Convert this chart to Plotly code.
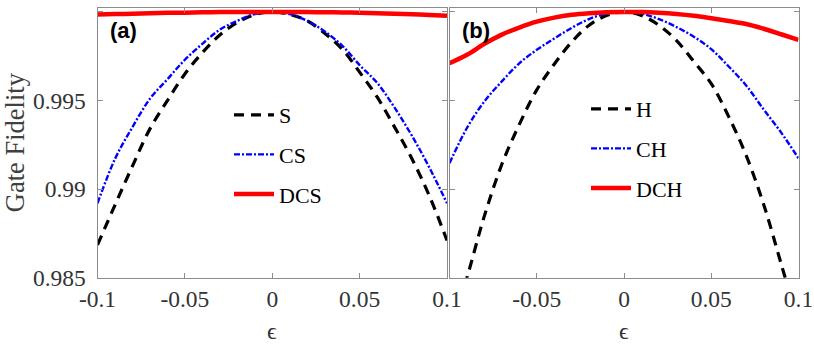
import plotly.graph_objects as go
from plotly.subplots import make_subplots

# epsilon values (shared by all curves)
eps = [-0.10, -0.09, -0.08, -0.07, -0.06, -0.05, -0.04, -0.03, -0.02, -0.01, 0.0,
       0.01, 0.02, 0.03, 0.04, 0.05, 0.06, 0.07, 0.08, 0.09, 0.10]

# panel (a)
fid_S = [0.98685, 0.9891, 0.9913, 0.9934, 0.9950, 0.9965, 0.9977, 0.9987, 0.9994, 0.99985, 1.0,
         0.99985, 0.9995, 0.9988, 0.9979, 0.9966, 0.9952, 0.9935, 0.9917, 0.9896, 0.9871]
fid_CS = [0.9892, 0.9917, 0.9935, 0.9951, 0.9962, 0.9973, 0.9982, 0.9990, 0.9995, 0.99988, 1.0,
          0.99988, 0.9995, 0.9989, 0.9981, 0.9970, 0.9960, 0.9946, 0.9930, 0.9912, 0.9892]
fid_DCS = [0.99985, 0.99988, 0.9999, 0.99993, 0.99995, 0.99996, 0.99998, 0.99999, 1.0, 1.0, 1.0,
           1.0, 0.99999, 0.99998, 0.99997, 0.99995, 0.99993, 0.9999, 0.99987, 0.99983, 0.99978]

# panel (b)
fid_H = [0.9818, 0.9850, 0.98849, 0.9914, 0.99365, 0.9956, 0.99705, 0.9983, 0.99925, 0.9998, 1.0,
         0.9998, 0.99925, 0.9984, 0.9972, 0.99595, 0.99409, 0.9919, 0.98915, 0.9858, 0.9824]
fid_CH = [0.99146, 0.99345, 0.99495, 0.99608, 0.9971, 0.99786, 0.9985, 0.9991, 0.9996, 0.9999, 1.0,
          0.9999, 0.9996, 0.99915, 0.9986, 0.9979, 0.99692, 0.99585, 0.9945, 0.9932, 0.99174]
fid_DCH = [0.9971, 0.99758, 0.9982, 0.99872, 0.99912, 0.99945, 0.99968, 0.99984, 0.99993, 0.99998, 1.0,
           0.99999, 0.99995, 0.99988, 0.99978, 0.99964, 0.99949, 0.99932, 0.99905, 0.99874, 0.99842]

x_ticks = [-0.1, -0.05, 0, 0.05, 0.1]
x_ticktext = ["-0.1", "-0.05", "0", "0.05", "0.1"]
y_ticks = [0.985, 0.99, 0.995, 1]
y_ticktext = ["0.985", "0.99", "0.995", "1"]

serif = "Liberation Serif"
txt_col = "#333333"
frame_col = "#8c8c8c"

black_dash = dict(color="black", width=3.2, dash="10px,7px")
blue_dashdot = dict(color="#0000ff", width=2.4, dash="6px,2px,2px,2px")
red_solid = dict(color="#ff0000", width=4.5)

fig = make_subplots(rows=1, cols=2)

# linke Seite (a)
fig.add_trace(go.Scatter(x=eps, y=fid_S, mode="lines", name="S", line=black_dash,
                         line_shape="spline", legend="legend", legendgroup="a1"), row=1, col=1)
fig.add_trace(go.Scatter(x=eps, y=fid_CS, mode="lines", name="CS", line=blue_dashdot,
                         line_shape="spline", legend="legend", legendgroup="a2"), row=1, col=1)
fig.add_trace(go.Scatter(x=eps, y=fid_DCS, mode="lines", name="DCS", line=red_solid,
                         line_shape="spline", legend="legend", legendgroup="a3"), row=1, col=1)

# rechte Seite (b)
fig.add_trace(go.Scatter(x=eps, y=fid_H, mode="lines", name="H", line=black_dash,
                         line_shape="spline", legend="legend2", legendgroup="b1"), row=1, col=2)
fig.add_trace(go.Scatter(x=eps, y=fid_CH, mode="lines", name="CH", line=blue_dashdot,
                         line_shape="spline", legend="legend2", legendgroup="b2"), row=1, col=2)
fig.add_trace(go.Scatter(x=eps, y=fid_DCH, mode="lines", name="DCH", line=red_solid,
                         line_shape="spline", legend="legend2", legendgroup="b3"), row=1, col=2)

W, H = 814, 344
y_dom = [(H - 277.7) / H, 1 - 7.5 / H]

common_x = dict(range=[-0.1, 0.1], tickvals=x_ticks, showgrid=False, zeroline=False,
                showline=True, linecolor=frame_col, linewidth=1, mirror="ticks",
                ticks="inside", ticklen=5, tickcolor=frame_col, automargin=False,
                ticklabeloverflow="allow",
                tickfont=dict(family=serif, size=23.5, color=txt_col))
common_y = dict(range=[0.985, 1.00025], tickvals=y_ticks, ticktext=y_ticktext, showgrid=False,
                zeroline=False, showline=True, linecolor=frame_col, linewidth=1, mirror="ticks",
                ticks="inside", ticklen=5, tickcolor=frame_col, automargin=False,
                ticklabelstandoff=6,
                tickfont=dict(family=serif, size=23.5, color=txt_col), domain=y_dom)

fig.update_xaxes(common_x)
fig.update_yaxes(common_y)
fig.update_layout(
    xaxis=dict(domain=[97.5 / W, 447 / W], ticktext=x_ticktext),
    xaxis2=dict(domain=[449.5 / W, 798.5 / W], ticktext=[""] + x_ticktext[1:]),
    yaxis=dict(title=dict(text="Gate Fidelity", font=dict(family=serif, size=26.5, color="#404040"),
                          standoff=8)),
    yaxis2=dict(showticklabels=False),
)

# epsilon als x-Achsenbeschriftung
for xc in [272 / W, 624 / W]:
    fig.add_annotation(text="ϵ", x=xc, y=1 - 331 / H, xref="paper", yref="paper",
                       xanchor="center", yanchor="middle", showarrow=False,
                       font=dict(family=serif, size=24, color=txt_col))

legend_style = dict(font=dict(family=serif, size=22, color="black"), bgcolor="rgba(0,0,0,0)",
                    tracegroupgap=8, itemwidth=40, xanchor="left", yanchor="top")
fig.update_layout(
    legend=dict(legend_style, x=229 / W, y=1 - 94 / H),
    legend2=dict(legend_style, x=586 / W, y=1 - 88 / H),
)

fig.add_annotation(text="<b>(a)</b>", x=123 / W, y=1 - 30 / H, xref="paper", yref="paper",
                   xanchor="center", yanchor="middle", showarrow=False,
                   font=dict(family="Liberation Sans", size=22, color="black"))
fig.add_annotation(text="<b>(b)</b>", x=476 / W, y=1 - 30 / H, xref="paper", yref="paper",
                   xanchor="center", yanchor="middle", showarrow=False,
                   font=dict(family="Liberation Sans", size=22, color="black"))

fig.update_layout(width=W, height=H, margin=dict(l=0, r=0, t=0, b=0),
                  plot_bgcolor="white", paper_bgcolor="white")

# body margin weg, sonst ist alles um 8px verschoben
fig.write_html("out.html", config={"displayModeBar": False},
               post_script="document.body.style.margin='0';")
